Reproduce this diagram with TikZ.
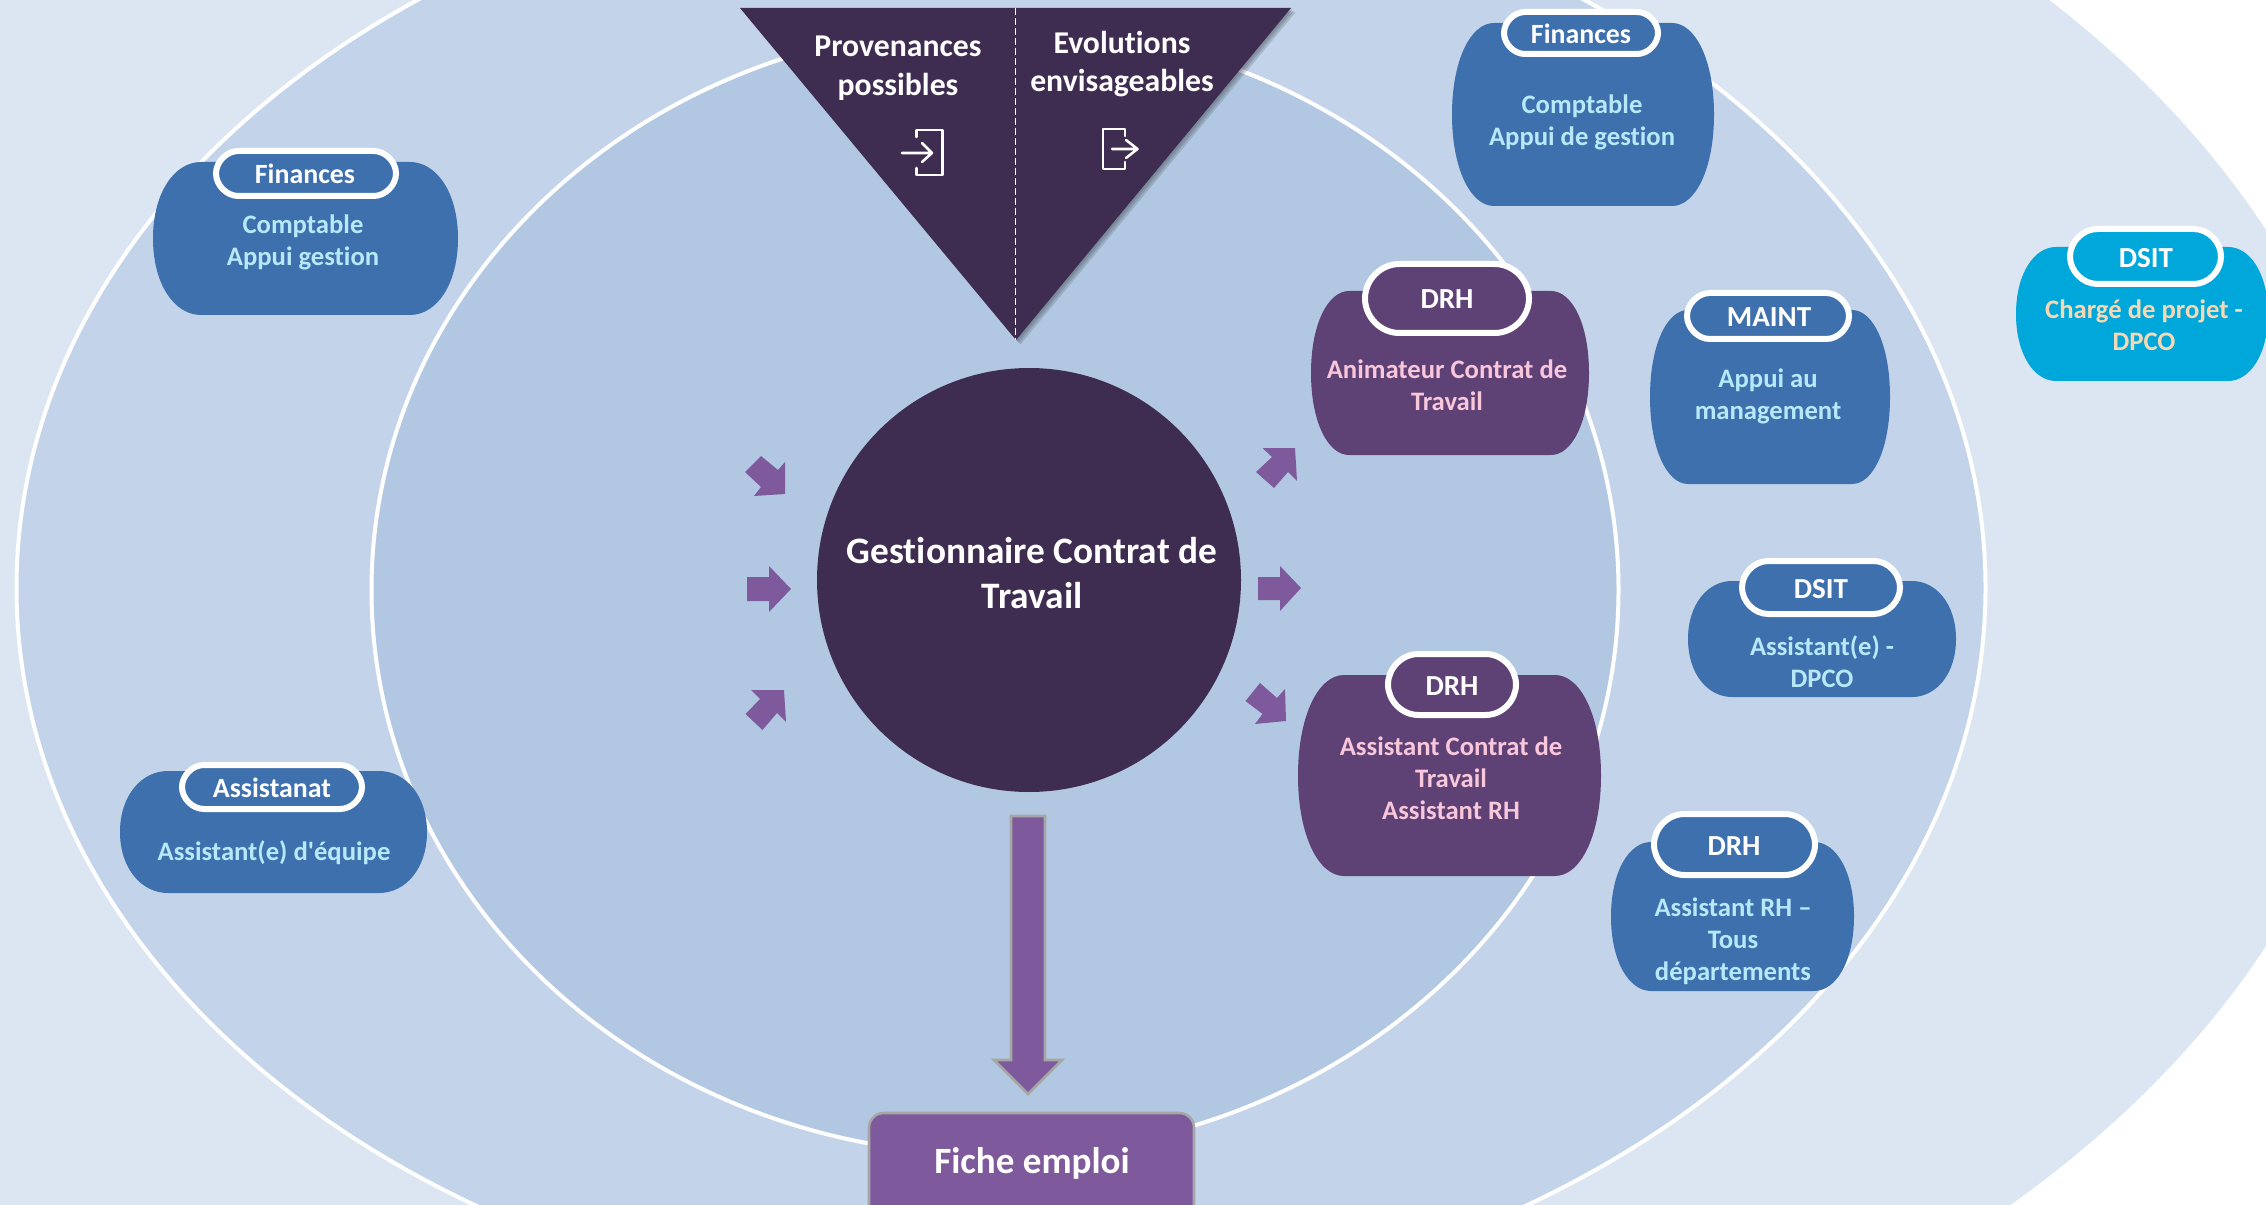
\documentclass[tikz,border=0pt]{standalone}
\usepackage{fontspec}
\setmainfont{Carlito}[Ligatures={CommonOff}]
\newfontfamily\straightfont{Carlito}[Ligatures={CommonOff}]
\definecolor{ringA}{HTML}{DCE6F2}
\definecolor{ringB}{HTML}{C3D4EA}
\definecolor{ringC}{HTML}{B2C8E2}
\definecolor{darkplum}{HTML}{3F2D51}
\definecolor{plumcard}{HTML}{5E4275}
\definecolor{violetfill}{HTML}{7E5A9C}
\definecolor{bluecard}{HTML}{3E70AD}
\definecolor{cyancard}{HTML}{00A7DB}
\definecolor{iceText}{HTML}{B7E9FB}
\definecolor{pinkText}{HTML}{F9C6DC}
\definecolor{peachText}{HTML}{F6D9B4}
\definecolor{edgegrey}{HTML}{A6A6A6}
\tikzset{
  x=0.75pt,y=-0.75pt,
  ringline/.style={draw=white,line width=3pt},
  pilltext/.style={text=white,font=\fontsize{21.8}{24}\selectfont\bfseries,inner sep=0pt},
  pilltextsmall/.style={text=white,font=\fontsize{20.9}{24}\selectfont\bfseries,inner sep=0pt},
  bodytext/.style={align=center,font=\fontsize{20}{24}\selectfont\bfseries,inner sep=0pt},
  icontext/.style={bodytext,text=iceText},
  pinktext/.style={bodytext,text=pinkText},
  peachtext/.style={bodytext,text=peachText},
  tritext/.style={align=center,text=white,font=\fontsize{23.8}{29}\selectfont\bfseries,inner sep=0pt},
  smallarrow/.style={fill=violetfill},
  iconline/.style={draw=white,line width=1.9pt,line join=round,line cap=round},
  triangleshadow/.style={fill=black!60!ringC,opacity=.22},
}
% card: x1 y1 x2 y2 rx fill
\newcommand{\cardshape}[6]{%
  \fill[#6] (#1+#5,#2) -- (#3-#5,#2)
    .. controls (#3-0.4477*#5,#2) and (#3,#2+0.2*#4-0.2*#2) .. (#3,#2/2+#4/2)
    .. controls (#3,#4-0.2*#4+0.2*#2) and (#3-0.4477*#5,#4) .. (#3-#5,#4)
    -- (#1+#5,#4)
    .. controls (#1+0.4477*#5,#4) and (#1,#4-0.2*#4+0.2*#2) .. (#1,#2/2+#4/2)
    .. controls (#1,#2+0.2*#4-0.2*#2) and (#1+0.4477*#5,#2) .. (#1+#5,#2) -- cycle;%
}
% pill: outer x1 y1 x2 y2 fill
\newcommand{\pillshape}[5]{%
  \draw[draw=white,line width=4.5pt,fill=#5,rounded corners=0pt]
    (#1+3+#4/2-#2/2-3,#2+3) -- (#3-3-#4/2+#2/2+3,#2+3)
    .. controls (#3-3-0.2*#4+0.2*#2,#2+3) and (#3-3,#2+3+0.22*#4-0.22*#2) .. (#3-3,#2/2+#4/2)
    .. controls (#3-3,#4-3-0.22*#4+0.22*#2) and (#3-3-0.2*#4+0.2*#2,#4-3) .. (#3-3-#4/2+#2/2+3,#4-3)
    -- (#1+3+#4/2-#2/2-3,#4-3)
    .. controls (#1+3+0.2*#4-0.2*#2,#4-3) and (#1+3,#4-3-0.22*#4+0.22*#2) .. (#1+3,#2/2+#4/2)
    .. controls (#1+3,#2+3+0.22*#4-0.22*#2) and (#1+3+0.2*#4-0.2*#2,#2+3) .. (#1+3+#4/2-#2/2-3,#2+3) -- cycle;%
}
\begin{document}
\begin{tikzpicture}
\path[use as bounding box] (0,0) rectangle (2266,1205);
\clip (0,0) rectangle (2266,1205);
\fill[white] (0,0) rectangle (2266,1205);
% rings
\fill[ringA] (1000,588) ellipse [x radius=1377,y radius=908];
\path[fill=ringB,ringline] (1001,588) ellipse [x radius=984.5,y radius=730];
\path[fill=ringC,ringline] (995,590) ellipse [x radius=623.5,y radius=565];
% triangle
\fill[triangleshadow] (741.5,9.5) -- (1292.5,9.5) -- (1017.5,341.5) -- cycle;
\fill[triangleshadow] (743,11) -- (1294,11) -- (1019,343) -- cycle;
\fill[triangleshadow] (744.5,12.5) -- (1295.5,12.5) -- (1020.5,344.5) -- cycle;
\fill[darkplum] (740,8) -- (1291,8) -- (1016,340) -- cycle;
\draw[white,line width=0.8pt,dash pattern=on 5pt off 2.5pt] (1015.5,8) -- (1015.5,340);
\node[tritext] (prov) at (898,68.5) {Provenances\\possibles};
\node[tritext] (evol) at (1122,64) {Evolutions\\envisageables};
\draw[iconline] (916.5,137) -- (916.5,130) -- (942.4,130) -- (942.4,175) -- (916.5,175) -- (916.5,168);
\draw[iconline] (902,153) -- (932,153) (922,143) -- (932,153) -- (922,162);
\draw[iconline] (1125,136) -- (1125,129) -- (1103,129) -- (1103,169) -- (1125,169) -- (1125,162);
\draw[iconline] (1112,149) -- (1137.5,149) (1126,140) -- (1137.5,149) -- (1126,158);
% centre
\fill[darkplum] (1029,580) circle [radius=212];
\node[align=center,text=white,inner sep=0pt,font=\fontsize{28}{33.6}\selectfont\bfseries] (centre) at (1032,573) {Gestionnaire Contrat de\\Travail};
% small arrows
\fill[smallarrow] (747,577) -- (769,577) -- (769,566) -- (791,589) -- (769,612) -- (769,601) -- (747,601) -- cycle;
\fill[smallarrow] (1258,577) -- (1280,577) -- (1280,566) -- (1301,588) -- (1280,611) -- (1280,600) -- (1258,600) -- cycle;
\fill[smallarrow] (761,456) -- (778,470) -- (785,462) -- (785,494) -- (754,496) -- (761,487) -- (745,472) -- cycle;
\fill[smallarrow] (751,690) -- (784,690) -- (786,722) -- (777,713) -- (762.5,730) -- (745.5,714) -- (760,699) -- cycle;
\fill[smallarrow] (1262.5,448) -- (1295,448) -- (1297,481) -- (1288,472) -- (1274,488) -- (1256,472) -- (1272,457) -- cycle;
\fill[smallarrow] (1260,683) -- (1277,698) -- (1285,689) -- (1286,721) -- (1255,724) -- (1262.5,714) -- (1245.5,701) -- cycle;
% big arrow
\draw[fill=violetfill,draw=edgegrey,line width=1.9pt,miter limit=10] (1011,816) -- (1045,816) -- (1045,1060) -- (1062,1060) -- (1028,1094) -- (994,1060) -- (1011,1060) -- cycle;
% fiche
\draw[fill=violetfill,draw=edgegrey,line width=1.9pt,rounded corners=11pt] (869,1113) -- (1194,1113) -- (1194,1240) -- (869,1240) -- cycle;
\node[text=white,inner sep=0pt,font=\fontsize{27.8}{30}\selectfont\bfseries] (fiche) at (1032,1163.5) {Fiche emploi};
% left cards
\cardshape{153}{162}{458}{315}{48}{bluecard}
\pillshape{213}{148}{399}{199}{bluecard}
\node[pilltextsmall] (finL) at (305,174) {Finances};
\node[icontext] (finLb) at (303,242) {Comptable\\Appui gestion};
\cardshape{120}{771}{427}{893}{48}{bluecard}
\pillshape{179}{762}{365}{812}{bluecard}
\node[pilltextsmall] (assL) at (272,788) {Assistanat};
\node[icontext] (assLb) at (274,853) {Assistant(e) d{\straightfont\bfseries'}équipe};
% right cards
\cardshape{1452}{23}{1714}{206}{42}{bluecard}
\pillshape{1501}{9}{1661}{57}{bluecard}
\node[pilltextsmall] (finR) at (1581,34) {Finances};
\node[icontext] (finRb) at (1582,122.5) {Comptable\\Appui de gestion};
\cardshape{1311}{291}{1589}{455}{38}{plumcard}
\pillshape{1362}{261}{1532}{336}{plumcard}
\node[pilltext] (drhA) at (1447,299) {DRH};
\node[pinktext] (drhAb) at (1447,385.5) {Animateur Contrat de\\Travail};
\cardshape{1650}{310}{1890}{484}{38}{bluecard}
\pillshape{1684}{290}{1852}{342}{bluecard}
\node[pilltext] (maint) at (1769,317.5) {MAINT};
\node[icontext] (maintb) at (1768,396.5) {Appui au\\management};
\cardshape{1688}{581}{1956}{697}{44}{bluecard}
\pillshape{1739}{558}{1903}{617}{bluecard}
\node[pilltext] (dsitA) at (1821,589) {DSIT};
\node[icontext] (dsitAb) at (1822,661.5) {Assistant(e) -\\DPCO};
\cardshape{2016}{247}{2268}{381}{40}{cyancard}
\pillshape{2067}{226}{2224}{287}{cyancard}
\node[pilltext] (dsitB) at (2146,258) {DSIT};
\node[peachtext] (dsitBb) at (2144,325.5) {Chargé de projet -\\DPCO};
\cardshape{1298}{675}{1601}{876}{46}{plumcard}
\pillshape{1385}{651}{1519}{718}{plumcard}
\node[pilltext] (drhB) at (1452,686.5) {DRH};
\node[pinktext] (drhBb) at (1451,778.5) {Assistant Contrat de\\Travail\\Assistant RH};
\cardshape{1611}{842}{1854}{991}{40}{bluecard}
\pillshape{1651}{811}{1818}{878}{bluecard}
\node[pilltext] (drhC) at (1734,846) {DRH};
\node[icontext] (drhCb) at (1733,941.5) {Assistant RH --\\Tous\\départements};
\end{tikzpicture}
\end{document}
